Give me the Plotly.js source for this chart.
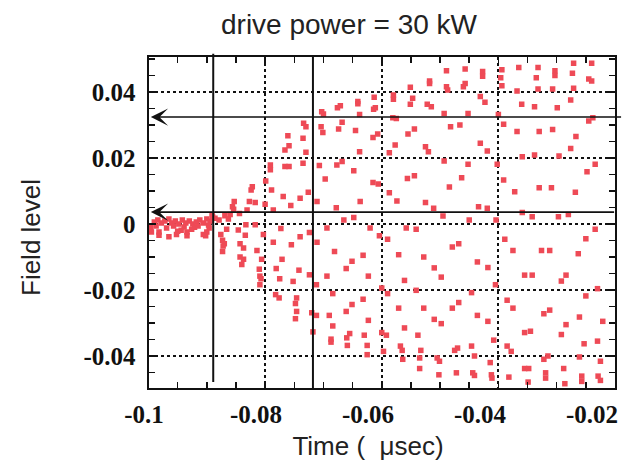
<!DOCTYPE html>
<html>
<head>
<meta charset="utf-8">
<script src="https://cdn.plot.ly/plotly-3.0.1.min.js"></script>
<style>html,body{margin:0;padding:0;background:#fff;}#chart{width:642px;height:469px;}</style>
</head>
<body>
<div id="chart"></div>
<script>
// Time (microseconds)
const timeUs = [
-0.0990,-0.0984,-0.0978,-0.0972,-0.0965,-0.0960,-0.0954,-0.0948,-0.0942,-0.0936,
-0.0930,-0.0924,-0.0918,-0.0912,-0.0906,-0.0900,-0.0894,-0.0890,-0.0996,-0.0987,
-0.0969,-0.0957,-0.0939,-0.0921,-0.0915,-0.0897,-0.0995,-0.0982,-0.0982,-0.0965,
-0.0952,-0.0950,-0.0944,-0.0934,-0.0934,-0.0926,-0.0906,-0.0902,-0.0900,-0.0896,
-0.0891,-0.0886,-0.0879,-0.0869,-0.0876,-0.0873,-0.0870,-0.0872,-0.0873,-0.0866,
-0.0761,-0.0759,-0.0766,-0.0766,-0.0759,-0.0791,-0.0791,-0.0799,-0.0789,-0.0822,
-0.0824,-0.0827,-0.0817,-0.0786,-0.0769,-0.0756,-0.0740,-0.0853,-0.0856,-0.0854,
-0.0831,-0.0860,-0.0863,-0.0800,-0.0844,-0.0843,-0.0837,-0.0834,-0.0843,-0.0837,
-0.0840,-0.0833,-0.0817,-0.0814,-0.0806,-0.0803,-0.0810,-0.0809,-0.0807,-0.0809,
-0.0786,-0.0773,-0.0771,-0.0781,-0.0775,-0.0782,-0.0776,-0.0755,-0.0742,-0.0752,
-0.0746,-0.0748,-0.0746,-0.0748,-0.0740,-0.0846,-0.0489,-0.0518,-0.0518,-0.0551,
-0.0489,-0.0487,-0.0580,-0.0580,-0.0613,-0.0547,-0.0641,-0.0641,-0.0551,-0.0522,
-0.0515,-0.0671,-0.0676,-0.0611,-0.0614,-0.0703,-0.0700,-0.0638,-0.0493,-0.0581,
-0.0575,-0.0734,-0.0730,-0.0482,-0.0466,-0.0704,-0.0668,-0.0674,-0.0701,-0.0645,
-0.0544,-0.0555,-0.0607,-0.0615,-0.0735,-0.0577,-0.0525,-0.0520,-0.0730,-0.0587,
-0.0638,-0.0493,-0.0735,-0.0707,-0.0677,-0.0668,-0.0648,-0.0697,-0.0556,-0.0544,
-0.0615,-0.0606,-0.0484,-0.0726,-0.0587,-0.0711,-0.0637,-0.0574,-0.0525,-0.0678,
-0.0511,-0.0495,-0.0665,-0.0648,-0.0457,-0.0427,-0.0427,-0.0394,-0.0365,-0.0332,
-0.0303,-0.0303,-0.0271,-0.0240,-0.0273,-0.0245,-0.0240,-0.0396,-0.0335,-0.0457,
-0.0460,-0.0394,-0.0368,-0.0332,-0.0307,-0.0271,-0.0431,-0.0423,-0.0360,-0.0338,
-0.0299,-0.0276,-0.0452,-0.0400,-0.0245,-0.0238,-0.0391,-0.0368,-0.0330,-0.0307,
-0.0267,-0.0431,-0.0419,-0.0276,-0.0359,-0.0338,-0.0296,-0.0452,-0.0402,-0.0234,
-0.0248,-0.0463,-0.0391,-0.0372,-0.0330,-0.0309,-0.0268,-0.0434,-0.0419,-0.0359,
-0.0342,-0.0297,-0.0280,-0.0450,-0.0404,-0.0724,-0.0694,-0.0620,-0.0604,-0.0590,
-0.0558,-0.0541,-0.0711,-0.0681,-0.0632,-0.0651,-0.0661,-0.0694,-0.0724,-0.0623,
-0.0571,-0.0528,-0.0510,-0.0498,-0.0479,-0.0468,-0.0561,-0.0712,-0.0600,-0.0590,
-0.0541,-0.0684,-0.0632,-0.0651,-0.0661,-0.0468,-0.0720,-0.0712,-0.0690,-0.0571,
-0.0528,-0.0479,-0.0623,-0.0510,-0.0498,-0.0684,-0.0561,-0.0718,-0.0655,-0.0660,
-0.0630,-0.0600,-0.0592,-0.0538,-0.0687,-0.0687,-0.0659,-0.0625,-0.0568,-0.0565,
-0.0597,-0.0533,-0.0475,-0.0470,-0.0625,-0.0564,-0.0535,-0.0505,-0.0501,-0.0535,
-0.0502,-0.0472,-0.0234,-0.0389,-0.0250,-0.0375,-0.0326,-0.0312,-0.0263,-0.0436,
-0.0418,-0.0355,-0.0342,-0.0284,-0.0292,-0.0405,-0.0230,-0.0446,-0.0250,-0.0385,
-0.0375,-0.0322,-0.0312,-0.0436,-0.0261,-0.0418,-0.0221,-0.0284,-0.0355,-0.0345,
-0.0292,-0.0408,-0.0253,-0.0230,-0.0446,-0.0385,-0.0378,-0.0441,-0.0322,-0.0315,
-0.0261,-0.0225,-0.0414,-0.0444,-0.0441,-0.0412,-0.0411,-0.0355,-0.0348,-0.0319,
-0.0319,-0.0288,-0.0382,-0.0257,-0.0257,-0.0229,-0.0225,-0.0349,-0.0286
];
// Field level
const fieldLevel = [
0.0006,0.0012,0.0003,0.0009,0.0015,0.0003,0.0009,0.0000,0.0012,0.0003,
0.0009,0.0000,0.0006,0.0012,0.0003,0.0015,0.0009,0.0021,-0.0010,-0.0006,
-0.0012,-0.0006,-0.0009,-0.0010,-0.0006,-0.0003,-0.0024,-0.0024,-0.0034,-0.0039,
-0.0032,-0.0022,-0.0019,-0.0036,-0.0024,-0.0016,-0.0032,-0.0036,-0.0024,-0.0012,
0.0027,0.0017,0.0012,0.0025,-0.0032,-0.0049,-0.0060,-0.0067,-0.0083,-0.0016,
0.0267,0.0237,0.0224,0.0174,0.0174,0.0179,0.0164,0.0130,0.0103,0.0113,
0.0103,0.0068,0.0065,0.0042,0.0083,0.0056,0.0078,0.0068,0.0052,0.0045,
0.0042,0.0029,0.0015,0.0060,0.0032,-0.0060,-0.0073,-0.0034,-0.0100,-0.0107,
-0.0123,-0.0002,-0.0002,-0.0080,-0.0107,-0.0032,-0.0137,-0.0158,-0.0166,-0.0184,
-0.0055,-0.0014,-0.0107,-0.0135,-0.0166,-0.0214,-0.0224,-0.0063,-0.0140,-0.0174,
-0.0224,-0.0241,-0.0265,-0.0287,-0.0039,-0.0018,0.0464,0.0433,0.0426,0.0414,
0.0416,0.0406,0.0391,0.0378,0.0384,0.0381,0.0371,0.0364,0.0363,0.0363,
0.0355,0.0358,0.0352,0.0352,0.0348,0.0340,0.0333,0.0332,0.0335,0.0322,
0.0320,0.0305,0.0295,0.0295,0.0300,0.0295,0.0308,0.0288,0.0277,0.0283,
0.0288,0.0273,0.0273,0.0262,0.0260,0.0239,0.0234,0.0219,0.0217,0.0216,
0.0219,0.0191,0.0184,0.0177,0.0179,0.0189,0.0161,0.0136,0.0138,0.0146,
0.0126,0.0121,0.0112,0.0096,0.0095,0.0068,0.0068,0.0070,0.0065,0.0049,
0.0048,0.0024,0.0012,0.0020,0.0470,0.0462,0.0448,0.0467,0.0474,0.0474,
0.0464,0.0450,0.0487,0.0487,0.0457,0.0439,0.0433,0.0443,0.0443,0.0426,
0.0416,0.0419,0.0403,0.0409,0.0409,0.0411,0.0386,0.0369,0.0363,0.0355,
0.0352,0.0376,0.0335,0.0332,0.0312,0.0322,0.0302,0.0280,0.0280,0.0286,
0.0265,0.0245,0.0221,0.0229,0.0204,0.0209,0.0206,0.0181,0.0181,0.0181,
0.0158,0.0140,0.0133,0.0098,0.0110,0.0110,0.0096,0.0052,0.0048,0.0035,
0.0022,0.0022,0.0029,0.0012,0.0012,-0.0026,-0.0012,-0.0012,-0.0036,-0.0046,
-0.0012,-0.0016,-0.0055,-0.0083,-0.0095,-0.0113,-0.0135,-0.0158,-0.0154,-0.0158,
-0.0093,-0.0100,-0.0133,-0.0161,-0.0070,-0.0060,-0.0171,-0.0184,-0.0194,-0.0211,
-0.0201,-0.0211,-0.0228,-0.0244,-0.0265,-0.0238,-0.0269,-0.0277,-0.0277,-0.0255,
-0.0255,-0.0255,-0.0292,-0.0289,-0.0302,-0.0309,-0.0315,-0.0327,-0.0332,-0.0345,
-0.0337,-0.0329,-0.0337,-0.0337,-0.0349,-0.0358,-0.0368,-0.0368,-0.0370,-0.0383,
-0.0386,-0.0383,-0.0383,-0.0376,-0.0396,-0.0410,-0.0406,-0.0406,-0.0416,-0.0438,
-0.0457,-0.0451,-0.0016,-0.0046,-0.0045,-0.0080,-0.0080,-0.0080,-0.0090,-0.0115,
-0.0132,-0.0155,-0.0155,-0.0155,-0.0173,-0.0184,-0.0196,-0.0208,-0.0218,-0.0231,
-0.0255,-0.0272,-0.0261,-0.0277,-0.0282,-0.0295,-0.0295,-0.0305,-0.0329,-0.0325,
-0.0335,-0.0352,-0.0363,-0.0355,-0.0370,-0.0370,-0.0386,-0.0400,-0.0410,-0.0400,
-0.0403,-0.0416,-0.0420,-0.0451,-0.0459,-0.0457,-0.0467,-0.0438,-0.0438,-0.0451,
-0.0467,-0.0438,-0.0464,-0.0461,-0.0477,-0.0461,-0.0474,-0.0479,-0.0484
];
// Tick labels
const xTickVals = [-0.1, -0.08, -0.06, -0.04, -0.02];
const xTickText = ["-0.1", "-0.08", "-0.06", "-0.04", "-0.02"];
const yTickVals = [-0.04, -0.02, 0, 0.02, 0.04];
const yTickText = ["-0.04", "-0.02", "0", "0.02", "0.04"];
// Reference markers
const markerTimes = [-0.0889, -0.0718];
const arrowLevels = [0.0324, 0.0036];
const arrowTails = [-0.0187, -0.0199];

const xRange = [-0.1, -0.02];
const yRange = [-0.0497, 0.0506];

const tickFont = {family: "Liberation Serif", size: 25, weight: "bold", color: "#111"};
const sansFont = {family: "Liberation Sans, Arial, sans-serif", color: "#222"};

const traces = [
  {
    type: "scatter", mode: "markers", x: timeUs, y: fieldLevel,
    xaxis: "x", yaxis: "y",
    marker: {symbol: "square", size: 5.5, color: "#ee4a56", line: {width: 0}},
    hoverinfo: "skip"
  },
  {type: "scatter", mode: "markers", x: [], y: [], xaxis: "x2", yaxis: "y2", hoverinfo: "skip"}
];

const axisCommon = {
  showticklabels: false, ticks: "inside", ticklen: 7, tickwidth: 1.5, tickcolor: "#111",
  showgrid: true, gridcolor: "#111", griddash: "dot", gridwidth: 1.8,
  showline: true, linewidth: 2, linecolor: "#111", mirror: "ticks", zeroline: false,
  dtick: 0.02, tick0: 0,
  minor: {dtick: 0.005, tick0: 0, ticks: "inside", ticklen: 6, tickwidth: 1.5, tickcolor: "#111", showgrid: false}
};

const layout = {
  width: 642, height: 469,
  margin: {l: 140, r: 27, t: 57, b: 81},
  paper_bgcolor: "#fff", plot_bgcolor: "rgba(0,0,0,0)",
  showlegend: false,
  title: {
    text: "drive power = 30 kW",
    font: Object.assign({size: 28}, sansFont),
    x: 349 / 642, xanchor: "center", xref: "container",
    y: 1 - 24 / 469, yanchor: "middle", yref: "container"
  },
  xaxis: Object.assign({}, axisCommon, {domain: [0.0179, 1], range: xRange, anchor: "y"}),
  yaxis: Object.assign({}, axisCommon, {domain: [0, 1], range: yRange, anchor: "x"}),
  xaxis2: {
    domain: [0.0084, 0.9516], range: xRange, anchor: "y2", side: "bottom",
    tickmode: "array", tickvals: xTickVals, ticktext: xTickText,
    ticks: "", showline: false, showgrid: false, zeroline: false,
    tickfont: tickFont, ticklabelstandoff: 9,
    title: {text: "Time (  μsec)", font: Object.assign({size: 26}, sansFont), standoff: 9}
  },
  yaxis2: {
    domain: [0, 1], range: yRange, anchor: "free", position: 0.0179, side: "left",
    tickmode: "array", tickvals: yTickVals, ticktext: yTickText,
    ticks: "", showline: false, showgrid: false, zeroline: false,
    tickfont: tickFont, ticklabelstandoff: 13
  },
  shapes: [
    {type: "line", xref: "x", yref: "paper", x0: markerTimes[0], x1: markerTimes[0], y0: 0.018, y1: 1.01,
     line: {color: "#111", width: 2}},
    {type: "line", xref: "x", yref: "paper", x0: markerTimes[1], x1: markerTimes[1], y0: 0, y1: 1,
     line: {color: "#111", width: 2}}
  ],
  annotations: [
    {text: "Field level", textangle: -90, xref: "paper", yref: "paper",
     x: (31 - 140) / 475, y: (388 - 238) / 331, xanchor: "center", yanchor: "middle",
     showarrow: false, font: Object.assign({size: 26}, sansFont)},
    {text: "", x: -0.0996, y: arrowLevels[0], xref: "x", yref: "y",
     ax: arrowTails[0], ay: arrowLevels[0], axref: "x", ayref: "y",
     showarrow: true, arrowhead: 3, arrowsize: 1.8, arrowwidth: 1.6, arrowcolor: "#111", standoff: 0},
    {text: "", x: -0.0996, y: arrowLevels[1], xref: "x", yref: "y",
     ax: arrowTails[1], ay: arrowLevels[1], axref: "x", ayref: "y",
     showarrow: true, arrowhead: 3, arrowsize: 1.8, arrowwidth: 1.6, arrowcolor: "#111", standoff: 0}
  ]
};

Plotly.newPlot("chart", traces, layout, {staticPlot: true, displayModeBar: false});
</script>
</body>
</html>
